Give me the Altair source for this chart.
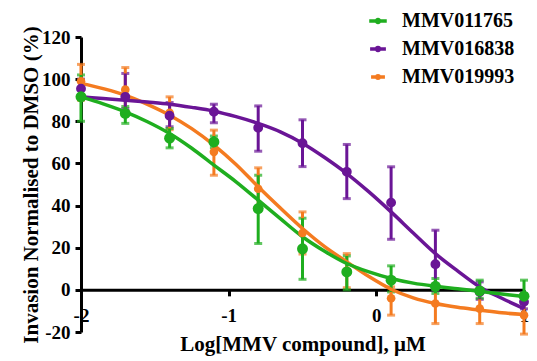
import altair as alt
import pandas as pd

# ---- data ----
series_names = ["MMV011765", "MMV016838", "MMV019993"]
series_colors = ["#1fae1f", "#6a1596", "#f47b20"]

dose = [-2.0, -1.7, -1.4, -1.1, -0.8, -0.5, -0.2, 0.1, 0.4, 0.7, 1.0]

green_mean = [91.6, 83.7, 72.0, 70.2, 38.6, 19.5, 8.5, 4.6, 1.7, -0.5, -3.0]
green_lo = [80.0, 79.0, 67.4, 67.5, 22.0, 5.0, 0.0, -1.0, -1.7, -4.0, -6.5]
green_hi = [102.0, 87.0, 76.6, 73.0, 54.4, 34.0, 16.1, 11.4, 5.4, 4.6, 4.6]

purple_mean = [95.5, 91.6, 82.6, 84.5, 76.9, 69.6, 56.0, 41.4, 12.2, -1.0, -5.7]
purple_lo = [91.0, 86.0, 77.4, 79.3, 65.8, 58.5, 43.3, 24.0, 0.0, -4.5, -9.0]
purple_hi = [100.0, 102.7, 88.9, 88.1, 87.3, 80.7, 69.0, 58.4, 28.3, 3.8, -2.0]

orange_mean = [99.0, 95.0, 84.0, 65.5, 48.0, 27.0, 9.0, -4.0, -6.5, -8.9, -12.0]
orange_lo = [90.0, 85.0, 76.0, 54.4, 38.0, 17.0, 1.0, -12.0, -16.0, -16.0, -21.0]
orange_hi = [107.0, 105.5, 91.6, 75.8, 57.9, 37.0, 17.2, 1.4, 2.0, 0.6, -5.0]

curve_x = [-2.0, -1.85, -1.7, -1.55, -1.4, -1.25, -1.1, -0.95, -0.8, -0.65, -0.5,
           -0.35, -0.2, -0.05, 0.1, 0.25, 0.4, 0.55, 0.7, 0.85, 1.0]
green_curve = [91.6, 88.3, 84.5, 79.8, 74.2, 67.2, 59.2, 51.3, 42.6, 33.8, 25.2,
               18.3, 12.5, 8.5, 5.4, 3.2, 1.7, 0.5, -0.7, -2.0, -3.2]
purple_curve = [91.6, 90.8, 90.0, 89.1, 88.1, 86.6, 84.8, 82.2, 79.0, 75.0, 69.6,
                62.8, 55.2, 46.5, 37.0, 27.0, 17.2, 9.0, 1.4, -4.0, -8.9]
orange_curve = [98.0, 95.5, 92.4, 88.0, 82.9, 76.5, 68.7, 59.5, 48.9, 38.8, 29.1,
                20.5, 13.3, 6.3, 0.3, -3.8, -6.5, -8.3, -9.6, -10.9, -11.7]

point_sizes = [120, 75, 50]

# ---- tables (drawing order: orange, purple, green) ----
pts_rows, curve_rows = [], []
for name, m, lo, hi, cv in [
    (series_names[2], orange_mean, orange_lo, orange_hi, orange_curve),
    (series_names[1], purple_mean, purple_lo, purple_hi, purple_curve),
    (series_names[0], green_mean, green_lo, green_hi, green_curve),
]:
    for i, d in enumerate(dose):
        pts_rows.append({"series": name, "grp": name, "dose": d,
                         "mean": m[i], "lo": lo[i], "hi": hi[i]})
    for i, d in enumerate(curve_x):
        curve_rows.append({"series": name, "dose": d, "val": cv[i]})
pts = pd.DataFrame(pts_rows)
curves = pd.DataFrame(curve_rows)

FONT = "Liberation Serif"
W, H = 443, 295

color_scale = alt.Scale(domain=series_names, range=series_colors)
x_scale = alt.Scale(domain=[-2, 1], nice=False, zero=False)
y_scale = alt.Scale(domain=[-20, 120], nice=False, zero=False)

neg_label = "datum.value < 0 ? '-' + abs(datum.value) : '' + datum.value"

axis_style = dict(
    domainColor="black", domainWidth=3, tickColor="black", tickWidth=3, tickSize=6,
    labelFont=FONT, labelFontSize=19, labelFontWeight="bold", labelColor="black",
    titleFont=FONT, titleFontSize=21, titleFontWeight="bold", titleColor="black",
    grid=False, labelExpr=neg_label,
)

x_enc = alt.X(
    "dose:Q", scale=x_scale,
    axis=alt.Axis(
        title="Log[MMV compound], \u03bcM", values=[-2, -1, 0, 1],
        offset=-H * 20 / 140, labelPadding=11, titlePadding=8, labelFlush=False,
        **axis_style,
    ),
)
y_enc = alt.Y(
    "lo:Q", scale=y_scale,
    axis=alt.Axis(
        title="Invasion Normalised to DMSO (%)",
        values=[-20, 0, 20, 40, 60, 80, 100, 120],
        labelPadding=5, titlePadding=0, **axis_style,
    ),
)

# line with a (solid) dot in the middle: two concentric rings fill the dot
legend_symbol = ("M-1.6,0L1.6,0"
                 "M-0.28,0a0.28,0.28 0 1,0 0.56,0a0.28,0.28 0 1,0 -0.56,0"
                 "M-0.1,0a0.1,0.1 0 1,0 0.2,0a0.1,0.1 0 1,0 -0.2,0")

leg = alt.Legend(
    title=None, orient="none", legendX=287, legendY=-26,
    symbolType=legend_symbol, symbolSize=1024, symbolStrokeWidth=3.5,
    symbolOpacity=1,
    labelFont=FONT, labelFontSize=20, labelFontWeight="bold",
    labelColor="black", labelOffset=14, rowPadding=8,
)

base_pts = alt.Chart(pts)

errbars = base_pts.mark_errorbar(ticks=True, thickness=3, size=8).encode(
    x=x_enc,
    y=y_enc,
    y2="hi:Q",
    color=alt.Color("series:N", scale=color_scale, legend=leg),
)

lines = alt.Chart(curves).mark_line(strokeWidth=3.5, interpolate="monotone").encode(
    x=alt.X("dose:Q", scale=x_scale),
    y=alt.Y("val:Q", scale=y_scale),
    color=alt.Color("series:N", scale=color_scale, legend=leg),
    detail="series:N",
)

points = base_pts.mark_circle(opacity=1).encode(
    x=alt.X("dose:Q", scale=x_scale),
    y=alt.Y("mean:Q", scale=y_scale),
    color=alt.Color("series:N", scale=color_scale, legend=leg),
    size=alt.Size("grp:N", scale=alt.Scale(domain=series_names, range=point_sizes), legend=None),
)

chart = alt.layer(errbars, lines, points).properties(
    width=W, height=H,
    autosize=alt.AutoSizeParams(type="none"),
    padding={"left": 81, "top": 37, "right": 13, "bottom": 29},
).configure_view(stroke=None)

chart.save("out.html", embed_options={"renderer": "svg", "actions": False})
